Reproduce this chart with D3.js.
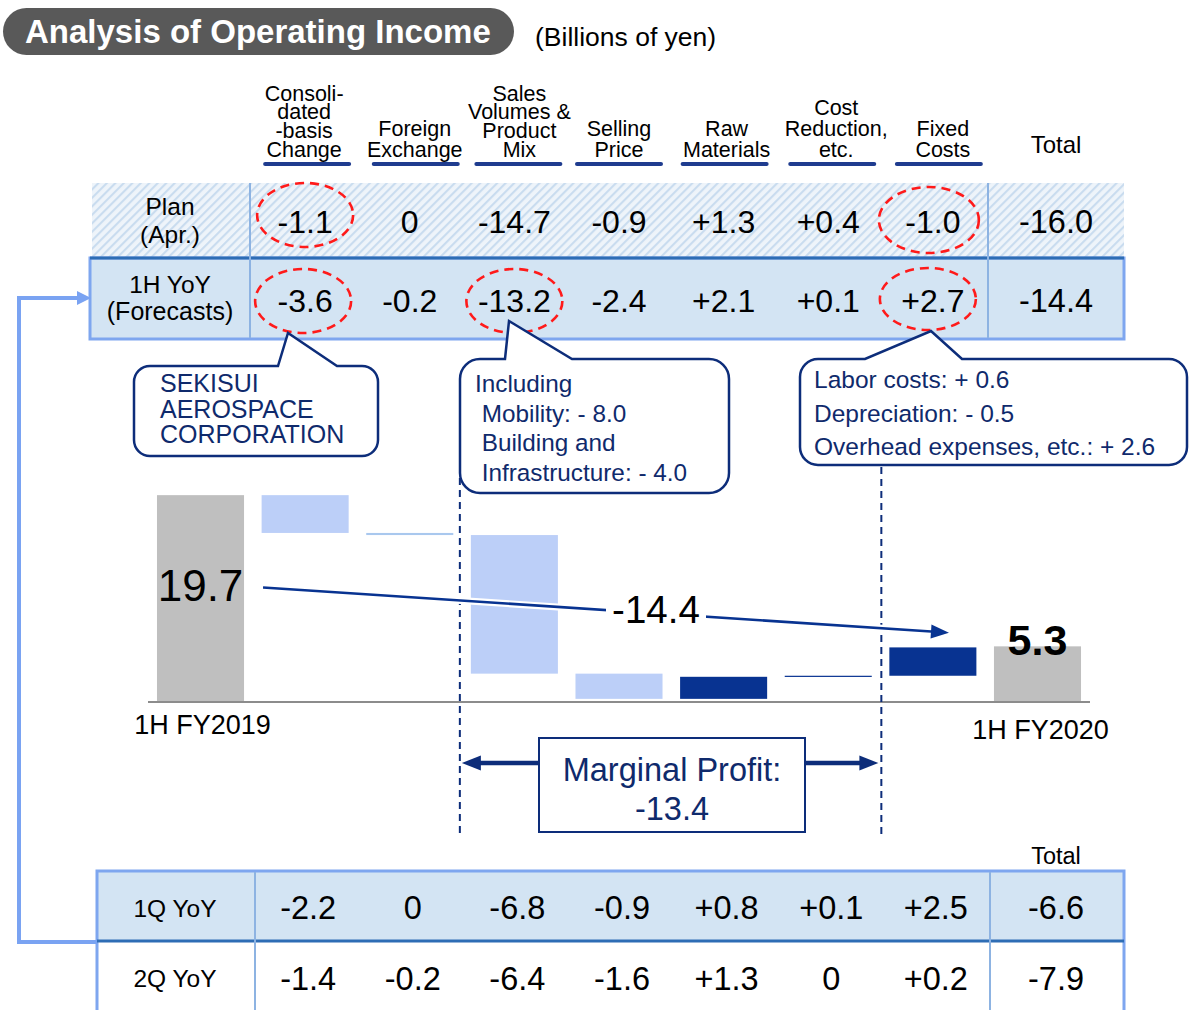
<!DOCTYPE html>
<html><head><meta charset="utf-8">
<script src="https://cdn.jsdelivr.net/npm/d3@7"></script>
<style>
body{margin:0;background:#fff}
svg{display:block}
text{font-family:"Liberation Sans",Arial,Helvetica,sans-serif}
</style>
</head><body>
<svg id="c" width="1190" height="1010"></svg>
<script>
// ---------------- data ----------------
const categories = ["1H FY2019","Consolidated-basis Change","Foreign Exchange","Sales Volumes & Product Mix","Selling Price","Raw Materials","Cost Reduction, etc.","Fixed Costs","1H FY2020"];
const factorHeaders = [["Consoli-","dated","-basis","Change"],["Foreign","Exchange"],["Sales","Volumes &","Product","Mix"],["Selling","Price"],["Raw","Materials"],["Cost","Reduction,","etc."],["Fixed","Costs"]];
const startValue = 19.7;
const endValue = 5.3;
const yoyForecast = [-3.6,-0.2,-13.2,-2.4,2.1,0.1,2.7];
const yoyTotal = -14.4;
const planApr = [-1.1,0,-14.7,-0.9,1.3,0.4,-1.0];
const planTotal = -16.0;
const q1YoY = [-2.2,0,-6.8,-0.9,0.8,0.1,2.5];
const q1Total = -6.6;
const q2YoY = [-1.4,-0.2,-6.4,-1.6,1.3,0,0.2];
const q2Total = -7.9;
const marginalProfit = -13.4;
const calloutAerospace = ["SEKISUI","AEROSPACE","CORPORATION"];
const calloutSales = ["Including"," Mobility: - 8.0"," Building and"," Infrastructure: - 4.0"];
const calloutFixed = ["Labor costs: + 0.6","Depreciation: - 0.5","Overhead expenses, etc.: + 2.6"];

// ---------------- setup ----------------
const svg = d3.select("#c");
const NAVY = "#0d2d7a", NAVYTXT = "#0f2a6c";
const LIGHTBAR = "#bccff8", DARKBAR = "#083391", GREY = "#bfbfbf";
const EDGE = "#7ea6ef", DIV = "#8db3e2", ROWLINE = "#2e6db5", ROWFILL = "#d3e4f3";

const x = d3.scaleBand().domain(categories).range([148.2, 1089.8]).paddingInner(0.168).paddingOuter(0.084);
const y = d3.scaleLinear().domain([0, 20]).range([702, 492]);
const cx = c => x(c) + x.bandwidth() / 2;
const colX = i => cx(categories[i + 1]);
const totalX = 1056;
const num = v => v.toFixed(1);                       // plain hyphen-minus
const fmt = v => v === 0 ? "0" : (v > 0 ? "+" : "") + num(v);

const defs = svg.append("defs");
const pat = defs.append("pattern").attr("id","hatch").attr("patternUnits","userSpaceOnUse")
  .attr("width",6).attr("height",6).attr("patternTransform","rotate(45)");
pat.append("rect").attr("width",6).attr("height",6).attr("fill","#eef4fa");
pat.append("line").attr("x1",1).attr("y1",0).attr("x2",1).attr("y2",6).attr("stroke","#c9dcef").attr("stroke-width",2.2);

function txt(g, s, px, py, size, opts = {}) {
  return g.append("text").attr("x", px).attr("y", py).text(s)
    .attr("font-size", size).attr("text-anchor", opts.anchor || "middle")
    .attr("font-weight", opts.weight || "normal").attr("fill", opts.fill || "#000");
}
function arrowHead(g, x1, y1, x2, y2, len, w, col) {
  const a = Math.atan2(y2 - y1, x2 - x1), c = Math.cos(a), s = Math.sin(a);
  const bx = x2 - len * c, by = y2 - len * s;
  g.append("path").attr("d", `M${x2},${y2} L${bx - w/2*s},${by + w/2*c} L${bx + w/2*s},${by - w/2*c} Z`).attr("fill", col);
}

// ---------------- title ----------------
svg.append("rect").attr("x",3).attr("y",8).attr("width",511).attr("height",47).attr("rx",23.5).attr("fill","#595959");
txt(svg, "Analysis of Operating Income", 25, 43, 33, {anchor:"start", weight:"bold", fill:"#fff"});
txt(svg, "(Billions of yen)", 535, 46, 26.5, {anchor:"start"});

// ---------------- column headers (one text element per header) ----------------
const hdrDx = [-1, 5, 5, 0, 3, 8, 10];
const lineDx = [2, 6, 4, 0, 1, 4, 6];
factorHeaders.forEach((lines, i) => {
  const lh = lines.length === 4 ? 18.8 : 21;
  const hx = colX(i) + hdrDx[i];
  const t = svg.append("text").attr("x", hx).attr("y", 157 - (lines.length - 1) * lh)
    .attr("font-size", 21.5).attr("text-anchor","middle").attr("fill","#000");
  lines.forEach((l, j) => t.append("tspan").attr("x", hx).attr("dy", j === 0 ? 0 : lh).text(l));
  svg.append("line").attr("x1", colX(i) + lineDx[i] - 42).attr("x2", colX(i) + lineDx[i] + 42).attr("y1",164).attr("y2",164)
    .attr("stroke","#1f3c8f").attr("stroke-width",4).attr("stroke-linecap","round");
});
txt(svg, "Total", totalX, 153, 24);

// ---------------- top table ----------------
const tt = svg.append("g");
tt.append("rect").attr("x",92).attr("y",183).attr("width",1032).attr("height",75).attr("fill","url(#hatch)");
tt.append("rect").attr("x",90).attr("y",258).attr("width",1034).attr("height",81).attr("fill",ROWFILL)
  .attr("stroke",EDGE).attr("stroke-width",3);
tt.append("line").attr("x1",90).attr("x2",1124).attr("y1",258).attr("y2",258).attr("stroke",ROWLINE).attr("stroke-width",3);
[250, 988].forEach(v => tt.append("line").attr("x1",v).attr("x2",v).attr("y1",183).attr("y2",338).attr("stroke",DIV).attr("stroke-width",2));
txt(tt, "Plan", 170, 215, 24.5);
txt(tt, "(Apr.)", 170, 243, 24.5);
txt(tt, "1H YoY", 170, 293, 24.5);
txt(tt, "(Forecasts)", 170, 320, 25);
planApr.forEach((v, i) => txt(tt, fmt(v), colX(i), 233, 32));
txt(tt, num(planTotal), totalX, 233, 32.5);
yoyForecast.forEach((v, i) => txt(tt, fmt(v), colX(i), 312, 32));
txt(tt, num(yoyTotal), totalX, 312, 32.5);

// red dashed ellipses
const ell = [[0,215,48,32],[6,220,50,33],[0,301,48,32],[2,301,48,32],[6,299,48,31]];
const ellDx = [0, -4, -2, 0, -5];
ell.forEach((e, k) => {
  svg.append("ellipse").attr("cx", colX(e[0]) + ellDx[k]).attr("cy", e[1]).attr("rx", e[2]).attr("ry", e[3])
    .attr("fill","none").attr("stroke","#ff1a1a").attr("stroke-width",2.6).attr("stroke-dasharray","9,6");
});

// ---------------- callouts ----------------
function calloutPath(x0,y0,x1,y1,r,bl,tx,ty,br){
  return `M${x0+r},${y0} H${bl} L${tx},${ty} L${br},${y0} H${x1-r} A${r},${r} 0 0 1 ${x1},${y0+r} V${y1-r} A${r},${r} 0 0 1 ${x1-r},${y1} H${x0+r} A${r},${r} 0 0 1 ${x0},${y1-r} V${y0+r} A${r},${r} 0 0 1 ${x0+r},${y0} Z`;
}
const co = svg.append("g");
co.append("path").attr("d", calloutPath(134,366,378,456,16,278,288,333,337)).attr("fill","#fff").attr("stroke",NAVY).attr("stroke-width",2.5);
calloutAerospace.forEach((l, j) => txt(co, l, 160, 392 + j * 25.5, 25, {anchor:"start", fill:NAVYTXT}));
co.append("path").attr("d", calloutPath(460,359,729,493,20,505,509,321,572)).attr("fill","#fff").attr("stroke",NAVY).attr("stroke-width",2.5);
calloutSales.forEach((l, j) => txt(co, l, 475, 392 + j * 29.7, 24.3, {anchor:"start", fill:NAVYTXT}).attr("xml:space","preserve"));
co.append("path").attr("d", calloutPath(800,359,1187,465,18,865,931,331,962)).attr("fill","#fff").attr("stroke",NAVY).attr("stroke-width",2.5);
calloutFixed.forEach((l, j) => txt(co, l, 814, 388 + j * 33.5, 24.5, {anchor:"start", fill:NAVYTXT}));

// ---------------- waterfall ----------------
const wf = svg.append("g");
let cum = startValue;
const steps = yoyForecast.map((v, i) => { const s = {cat: categories[i + 1], from: cum, to: cum + v, v}; cum += v; return s; });
wf.append("rect").attr("x", x(categories[0])).attr("width", x.bandwidth()).attr("y", y(startValue)).attr("height", y(0) - y(startValue)).attr("fill", GREY);
wf.append("rect").attr("x", x(categories[8])).attr("width", x.bandwidth()).attr("y", y(endValue)).attr("height", y(0) - y(endValue)).attr("fill", GREY);
wf.selectAll("rect.step").data(steps).join("rect").attr("class","step")
  .attr("x", d => x(d.cat)).attr("width", x.bandwidth())
  .attr("y", d => y(Math.max(d.from, d.to)))
  .attr("height", d => Math.max(1.2, Math.abs(y(d.from) - y(d.to))))
  .attr("fill", d => d.v < 0 ? (Math.abs(d.v) < 0.5 ? "#a9c8ee" : LIGHTBAR) : DARKBAR);
wf.append("line").attr("x1",148).attr("x2",1090).attr("y1",y(0)).attr("y2",y(0)).attr("stroke","#8c8c8c").attr("stroke-width",2);
txt(wf, num(startValue), cx(categories[0]), 601, 44);
txt(wf, num(endValue), cx(categories[8]), 655, 43, {weight:"bold"});
txt(wf, categories[0], cx(categories[0]) + 2, 734, 27);
txt(wf, categories[8], cx(categories[8]) + 3, 739, 27);

// dashed boundaries of marginal profit
const dL = x(categories[3]) - 11, dR = x(categories[7]) - 8;
wf.append("line").attr("x1",dL).attr("x2",dL).attr("y1",478).attr("y2",835).attr("stroke",NAVY).attr("stroke-width",2).attr("stroke-dasharray","7,5");
wf.append("line").attr("x1",dR).attr("x2",dR).attr("y1",467).attr("y2",835).attr("stroke",NAVY).attr("stroke-width",2).attr("stroke-dasharray","7,5");

// total change arrow
const ax1 = x(categories[0]) + x.bandwidth() + 19, ay1 = y(10.9);
const ax2 = x(categories[8]) - 45, ay2 = y(6.6);
wf.append("line").attr("x1",ax1).attr("y1",ay1).attr("x2",ax2 - 14).attr("y2",ay2 - 1).attr("stroke","#fff").attr("stroke-width",7);
wf.append("line").attr("x1",ax1).attr("y1",ay1).attr("x2",ax2 - 14).attr("y2",ay2 - 1).attr("stroke",DARKBAR).attr("stroke-width",2.6);
arrowHead(wf, ax1, ay1, ax2, ay2, 18, 14, DARKBAR);
const mx = (ax1 + ax2) / 2 + 50, my = (ay1 + ay2) / 2;
wf.append("rect").attr("x", mx - 50).attr("y", my - 22).attr("width", 100).attr("height", 40).attr("fill","#fff");
txt(wf, num(yoyTotal), mx, my + 13, 38.5);

// marginal profit box
wf.append("rect").attr("x",539).attr("y",738).attr("width",266).attr("height",94).attr("fill","#fff").attr("stroke",NAVY).attr("stroke-width",2);
txt(wf, "Marginal Profit:", 672, 781, 32.5, {fill:NAVYTXT});
txt(wf, num(marginalProfit), 672, 820, 32.5, {fill:NAVYTXT});
wf.append("line").attr("x1",539).attr("x2",478).attr("y1",763).attr("y2",763).attr("stroke",NAVY).attr("stroke-width",4.5);
arrowHead(wf, 539, 763, dL + 2, 763, 19, 15, NAVY);
wf.append("line").attr("x1",805).attr("x2",862).attr("y1",763).attr("y2",763).attr("stroke",NAVY).attr("stroke-width",4.5);
arrowHead(wf, 805, 763, dR - 3, 763, 19, 15, NAVY);

// ---------------- bottom table ----------------
const bt = svg.append("g");
bt.append("rect").attr("x",97).attr("y",871).attr("width",1027).attr("height",70).attr("fill",ROWFILL);
bt.append("path").attr("d","M97,1012 V871 H1124 V1012").attr("fill","none").attr("stroke",EDGE).attr("stroke-width",3);
bt.append("line").attr("x1",97).attr("x2",1124).attr("y1",941).attr("y2",941).attr("stroke",ROWLINE).attr("stroke-width",3);
[255, 990].forEach(v => bt.append("line").attr("x1",v).attr("x2",v).attr("y1",872).attr("y2",1010).attr("stroke",DIV).attr("stroke-width",2));
txt(bt, "Total", totalX, 864, 23.5);
txt(bt, "1Q YoY", 175, 917, 24.5);
txt(bt, "2Q YoY", 175, 987, 24.5);
q1YoY.forEach((v, i) => txt(bt, fmt(v), colX(i) + 3, 919, 32.5));
txt(bt, num(q1Total), totalX, 919, 32.5);
q2YoY.forEach((v, i) => txt(bt, fmt(v), colX(i) + 3, 990, 32.5));
txt(bt, num(q2Total), totalX, 990, 32.5);

// connector from 1Q row to 1H row
svg.append("path").attr("d","M97,942 H19 V298 H80").attr("fill","none").attr("stroke","#7aa3f2").attr("stroke-width",4);
arrowHead(svg, 19, 298, 91, 298, 14, 14, "#7aa3f2");
</script>
</body></html>
